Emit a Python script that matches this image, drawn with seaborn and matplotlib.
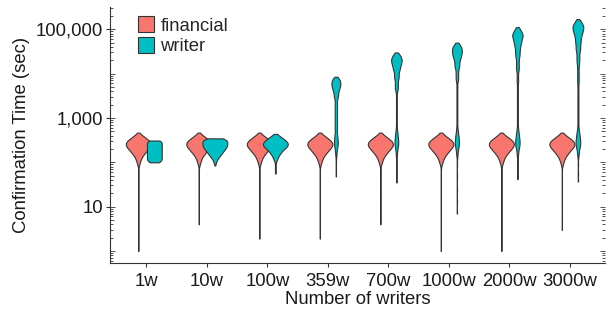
import matplotlib
matplotlib.use("Agg")
import matplotlib.pyplot as plt
import numpy as np
import pandas as pd
import seaborn as sns
from matplotlib.patches import Patch
from matplotlib.ticker import FixedLocator, FuncFormatter, NullLocator

categories = ["1w", "10w", "100w", "359w", "700w", "1000w", "2000w", "3000w"]
groups = ["financial", "writer"]
colors = ["#F8766D", "#00BFC4"]

# financial confirmation times (sec), with how many
# transactions sit at each value; the body looks the same for every run
fin_vals = [468, 417, 372, 331, 295, 263, 234, 209, 186, 166, 148, 132, 117, 105, 93, 83,
            63, 40, 25, 16, 10, 6.3]
fin_cnts = [3, 15, 30, 45, 57, 63, 60, 51, 42, 33, 24, 18, 12, 9, 6, 3,
            1, 1, 1, 1, 1, 1]
# lowest financial time per run (end of the thin tail)
fin_min = [1.0, 4.0, 1.9, 1.9, 4.0, 1.0, 1.0, 3.0]

# writer transactions
w1_vals = [100, 106, 112, 119, 126, 133, 141, 150, 158, 168, 178, 188, 200, 211, 224, 237,
           251, 266, 282, 298, 310]
w1_cnts = [15, 12, 15, 12, 15, 12, 15, 12, 15, 12, 15, 12, 15, 12, 15, 12, 15, 12, 15, 12, 15]

w10_vals = [347, 316, 282, 251, 224, 200, 178, 158, 141, 126, 112, 100, 89, 85]
w10_cnts = [40, 59, 64, 63, 59, 52, 44, 35, 26, 17, 10, 6, 2, 1]

w100_vals = [437, 398, 363, 331, 302, 275, 251, 229, 209, 191, 174, 158, 145, 132, 120, 110,
             95, 79, 66, 56]
w100_cnts = [6, 15, 27, 39, 48, 54, 57, 51, 42, 33, 27, 21, 15, 12, 9, 6, 3, 3, 3, 3]

# small bump around the financial times, shared by the big runs
w_low_vals = [560, 500, 450, 400, 355, 316, 282, 251, 224, 200, 178, 158, 141, 126]
w_low_cnts = [2, 2, 3, 4, 4, 5, 5, 5, 4, 3, 2, 2, 1, 1]

# thin stem between the bump and the upper bulb (700w and up)
w_line_vals = [6300, 5600, 5000, 4500, 4000, 3550, 3150, 2800, 2500, 2240, 2000, 1780, 1580,
               1410, 1260, 1120, 1000, 890, 790, 710, 630]

w359_vals = [8500, 7600, 6800, 6000, 5400, 4800, 4300, 3800, 3400, 3000, 2700, 2400,
             2100, 1900, 1700, 1500, 1350, 1200, 1070, 950, 850, 760, 680, 600]
w359_cnts = [3, 9, 12, 12, 12, 9, 9, 6, 6, 6, 3, 3,
             3, 3, 3, 3, 3, 3, 3, 3, 3, 3, 3, 3]
w359_tail = [100, 70, 48]

w700_vals = [30000, 27000, 24000, 21400, 19000, 17000, 15100, 13500, 12000, 10700, 9500, 8500,
             7600, 6800, 6000, 5400, 4800, 4300]
w700_cnts = [3, 9, 12, 15, 15, 12, 12, 9, 9, 6, 6, 6,
             6, 3, 3, 3, 3, 3]
w700_tail = [90, 56, 35]

w1000_vals = [50000, 45000, 40000, 35500, 31600, 28000, 25000, 22400, 20000, 17800, 15800, 14100,
              12600, 11200, 10000, 8900, 7900, 7100]
w1000_cnts = [3, 6, 12, 12, 12, 12, 9, 9, 6, 6, 6, 6,
              3, 3, 3, 3, 3, 3]
w1000_tail = [90, 50, 25, 12.6, 7]

w2000_vals = [112000, 100000, 89000, 79000, 71000, 63000, 56000, 50000, 45000, 40000, 35500,
              31600, 28000, 25000, 22400, 20000, 17800, 15800, 14100, 12600, 11200, 8900, 7100]
w2000_cnts = [3, 6, 9, 12, 12, 11, 9, 8, 7, 6, 6,
              5, 5, 5, 3, 3, 3, 3, 3, 3, 3, 3, 3]
w2000_tail = [90, 63, 42]

w3000_vals = [170000, 151000, 135000, 120000, 107000, 95000, 85000, 76000, 68000, 60000, 54000,
              48000, 43000, 38000, 34000, 30000, 27000, 24000, 21400, 19000, 17000, 14100, 11200,
              8900, 7100]
w3000_cnts = [3, 6, 9, 12, 12, 11, 9, 8, 7, 6, 6,
              5, 5, 5, 5, 3, 3, 3, 3, 3, 3, 3, 3,
              3, 3]
w3000_tail = [90, 56, 37]


rows = []


def add(cat, grp, vals, cnts):
    for v, c in zip(vals, cnts):
        rows.extend([(cat, grp, v)] * c)


for cat, lo in zip(categories, fin_min):
    add(cat, "financial", fin_vals + [lo], fin_cnts + [1])

add("1w", "writer", w1_vals, w1_cnts)
add("10w", "writer", w10_vals, w10_cnts)
add("100w", "writer", w100_vals, w100_cnts)

add("359w", "writer", w359_vals + w_low_vals + w359_tail,
    w359_cnts + w_low_cnts + [1] * len(w359_tail))
big_runs = [
    ("700w", w700_vals, w700_cnts, w700_tail),
    ("1000w", w1000_vals, w1000_cnts, w1000_tail),
    ("2000w", w2000_vals, w2000_cnts, w2000_tail),
    ("3000w", w3000_vals, w3000_cnts, w3000_tail),
]
for cat, vals, cnts, tail in big_runs:
    add(cat, "writer", vals + w_line_vals + w_low_vals + tail,
        cnts + [1] * len(w_line_vals) + w_low_cnts + [1] * len(tail))

df = pd.DataFrame(rows, columns=["writers", "type", "time"])

sns.set_style("ticks")
plt.rcParams["font.family"] = ["Liberation Sans", "DejaVu Sans"]
dark = "#333333"
fs = 13.3

fig = plt.figure(figsize=(6.11, 3.14), dpi=100)
ax = fig.add_axes([110 / 611, 1 - 263 / 314, 495 / 611, 256 / 314])

sns.violinplot(
    data=df, x="writers", y="time", hue="type",
    order=categories, hue_order=groups, palette=colors, saturation=1,
    log_scale=True, width=0.53, gap=-0.56, dodge=True,
    inner=None, cut=0, density_norm="count", common_norm=True,
    bw_method=lambda k: 0.045 / k.dataset.std(ddof=1),
    linecolor=dark, linewidth=0.8, legend=False, ax=ax,
)

ax.set_ylim(0.536, 318000)
ax.set_xlim(-0.6, 7.58)

ax.yaxis.set_major_locator(FixedLocator([10, 1000, 100000]))
ax.yaxis.set_minor_locator(NullLocator())
ax.yaxis.set_major_formatter(FuncFormatter(lambda v, _: f"{v:,.0f}"))
ax.tick_params(axis="both", which="major", direction="out", length=2.9, width=0.8,
               color=dark, labelsize=fs, labelcolor="#1a1a1a", pad=2)
ax.tick_params(axis="x", pad=4.5)
for s in ["top", "right"]:
    ax.spines[s].set_visible(False)
for s in ["left", "bottom"]:
    ax.spines[s].set_color(dark)
    ax.spines[s].set_linewidth(0.8)

# log ticks on both sides of the panel
lo_dec = [0.1, 1, 10, 100, 1000, 10000, 100000]
dec_ticks = [d for d in lo_dec if d >= 1]
mid_ticks = [5 * d for d in lo_dec if 0.536 <= 5 * d <= 318000]
short_ticks = [m * d for d in lo_dec for m in (2, 3, 4, 6, 7, 8, 9) if 0.536 <= m * d <= 318000]
for side in ("left", "right"):
    for locs, length in ((dec_ticks, 3.6), (mid_ticks, 2.8), (short_ticks, 2.0)):
        sec = ax.secondary_yaxis(side)
        sec.yaxis.set_major_locator(FixedLocator(locs))
        sec.yaxis.set_minor_locator(NullLocator())
        sec.tick_params(which="major", direction="in", length=length, width=0.6, color=dark,
                        labelleft=False, labelright=False)
        for sp in sec.spines.values():
            sp.set_visible(False)

ax.set_xlabel("Number of writers", fontsize=fs, color="#1a1a1a", labelpad=0.5)
ax.set_ylabel("Confirmation Time (sec)", fontsize=fs, color="#1a1a1a", labelpad=4)

handles = [Patch(facecolor=c, edgecolor=dark, linewidth=0.8, label=g) for g, c in zip(groups, colors)]
ax.legend(handles=handles, loc="upper left", bbox_to_anchor=(0.057, 0.965), frameon=False,
          borderpad=0, borderaxespad=0, handlelength=0.85, handleheight=1.0,
          handletextpad=0.35, labelspacing=0.12, fontsize=fs)

fig.savefig("out.png", dpi=100)
